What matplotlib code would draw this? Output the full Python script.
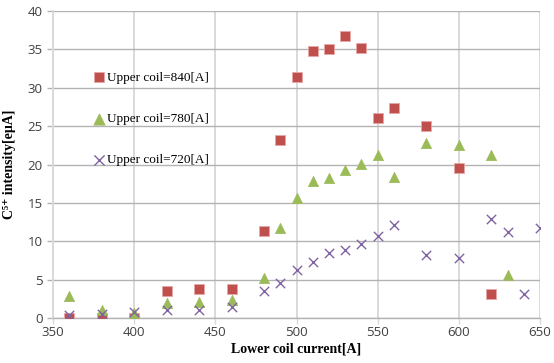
import matplotlib
matplotlib.use('Agg')
import matplotlib.pyplot as plt

# data
x_840 = [360, 380, 400, 420, 440, 460, 480, 490, 500, 510, 520, 530, 540, 550, 560, 580, 600, 620]
y_840 = [0.0, 0.0, 0.0, 3.5, 3.8, 3.8, 11.4, 23.2, 31.4, 34.8, 35.0, 36.8, 35.2, 26.1, 27.4, 25.0, 19.6, 3.1]

x_780 = [360, 380, 400, 420, 440, 460, 480, 490, 500, 510, 520, 530, 540, 550, 560, 580, 600, 620, 630]
y_780 = [2.9, 1.1, 0.7, 1.9, 2.1, 2.3, 5.2, 11.7, 15.7, 17.8, 18.2, 19.3, 20.1, 21.2, 18.4, 22.8, 22.6, 21.2, 5.6]

x_720 = [360, 380, 400, 420, 440, 460, 480, 490, 500, 510, 520, 530, 540, 550, 560, 580, 600, 620, 630, 640, 650]
y_720 = [0.4, 0.5, 0.8, 1.0, 1.1, 1.4, 3.5, 4.6, 6.2, 7.3, 8.5, 8.9, 9.7, 10.7, 12.1, 8.2, 7.8, 12.9, 11.2, 3.1, 11.7]

labels = ['Upper coil=840[A]', 'Upper coil=780[A]', 'Upper coil=720[A]']

fig = plt.figure(figsize=(5.54, 3.63), dpi=100)
ax = fig.add_axes([53 / 554, 45 / 363, 487 / 554, 307 / 363])

ax.scatter(x_840, y_840, marker='s', s=45, color='#C0504D', edgecolors='#E6A8A6', linewidths=0.6, label=labels[0], zorder=3)
ax.scatter(x_780, y_780, marker='^', s=55, color='#9BBB59', edgecolors='#9BBB59', linewidths=0.5, label=labels[1], zorder=3)
ax.scatter(x_720, y_720, marker='x', s=45, color='#8064A2', linewidths=1.0, label=labels[2], zorder=3)

ax.set_xlim(350, 650)
ax.set_ylim(0, 40)
ax.set_xticks(range(350, 651, 50))
ax.set_yticks(range(0, 41, 5))

# grid: darker horizontal, lighter vertical
ax.grid(axis='y', color='#B3B3B3', linewidth=1.0, zorder=0)
ax.grid(axis='x', color='#D9D9D9', linewidth=1.4, zorder=0)
ax.set_axisbelow(True)

for s in ['top', 'right']:
    ax.spines[s].set_visible(False)
ax.spines['left'].set_color('#D9D9D9')
ax.spines['left'].set_linewidth(1.4)
ax.spines['bottom'].set_color('#B3B3B3')
ax.spines['bottom'].set_linewidth(1.0)

ax.tick_params(axis='both', labelsize=9.5, labelcolor='#404040', length=4, width=1.0)
ax.tick_params(axis='y', color='#B3B3B3')
ax.tick_params(axis='x', color='#D9D9D9', pad=2)
for t in ax.get_xticklabels() + ax.get_yticklabels():
    t.set_fontfamily('Open Sans')

ax.set_xlabel('Lower coil current[A]', fontfamily='Liberation Serif', fontweight='bold', fontsize=10, labelpad=2)
ax.set_ylabel('C⁵⁺ intensity[eμA]', fontfamily=['Liberation Serif', 'DejaVu Serif'], fontweight='bold', fontsize=10, labelpad=8)

leg = ax.legend(loc='upper left', bbox_to_anchor=(0.07, 0.82), frameon=False,
                labelspacing=2.2, handletextpad=0.1, handlelength=1.0, borderaxespad=0,
                markerscale=1.1, prop={'family': 'Liberation Serif', 'size': 9.5})

fig.savefig('out.png', dpi=100)
